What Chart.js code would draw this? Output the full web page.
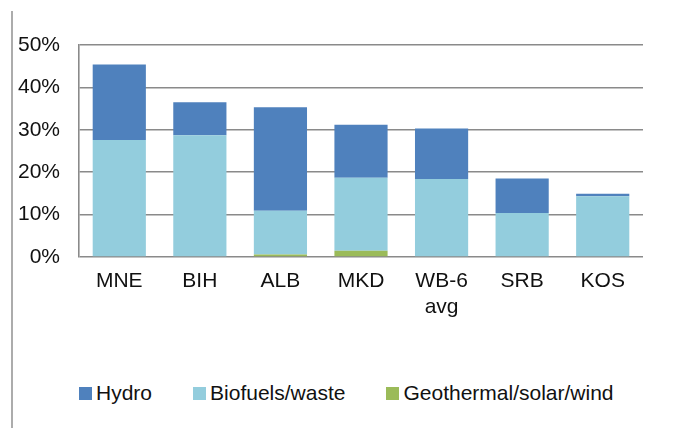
<!DOCTYPE html>
<html>
<head>
<meta charset="utf-8">
<script src="https://cdn.jsdelivr.net/npm/chart.js@4/dist/chart.umd.min.js"></script>
<style>
  body { margin: 0; background: #fff; font-family: "Liberation Sans", Arial, sans-serif; }
  #wrap { position: relative; width: 675px; height: 428px; overflow: hidden; }
  #edge { position: absolute; left: 11px; top: 11px; width: 2px; height: 417px; background: #acacac; }
  #chart { position: absolute; left: 0; top: 0; }
  #legend { position: absolute; left: 79px; top: 381px; display: flex; font-size: 21px; color: #111; }
  #legend .item { display: flex; align-items: center; margin-right: 41px; }
  #legend .sw { width: 13px; height: 13px; margin-right: 4px; }
</style>
</head>
<body>
<div id="wrap">
  <div id="edge"></div>
  <canvas id="chart" width="675" height="330"></canvas>
  <div id="legend"></div>
</div>
<script>
const categories = ['MNE', 'BIH', 'ALB', 'MKD', ['WB-6', 'avg'], 'SRB', 'KOS'];
const hydro = [17.8, 7.8, 24.4, 12.5, 11.9, 8.1, 0.6];
const biofuels = [27.6, 28.7, 10.3, 17.2, 18.4, 10.4, 14.3];
const geoSolarWind = [0, 0, 0.6, 1.5, 0, 0, 0];
const yTicks = [0, 10, 20, 30, 40, 50];

const font = { family: '"Liberation Sans", Arial, sans-serif', size: 21 };
const gridGray = '#8a8a8a';

// stacked bottom-up: geo, biofuels, hydro
const chart = new Chart(document.getElementById('chart'), {
  type: 'bar',
  data: {
    labels: categories,
    datasets: [
      { label: 'Geothermal/solar/wind', data: geoSolarWind, backgroundColor: '#9BBB59' },
      { label: 'Biofuels/waste', data: biofuels, backgroundColor: '#93CDDD' },
      { label: 'Hydro', data: hydro, backgroundColor: '#4F81BD' }
    ]
  },
  options: {
    responsive: false,
    animation: false,
    devicePixelRatio: 1,
    layout: { padding: { top: 45, right: 32, left: 0, bottom: 0 } },
    datasets: { bar: { categoryPercentage: 1, barPercentage: 0.66, borderWidth: 0 } },
    plugins: { legend: { display: false }, tooltip: { enabled: false } },
    scales: {
      x: {
        stacked: true,
        grid: { display: false, drawTicks: false },
        border: { display: false },
        ticks: { font: font, color: '#111', padding: 12, maxRotation: 0, autoSkip: false },
        afterFit: axis => { axis.height = 73; }
      },
      y: {
        stacked: true,
        min: yTicks[0],
        max: yTicks[yTicks.length - 1],
        afterBuildTicks: axis => { axis.ticks = yTicks.map(v => ({ value: v })); },
        grid: { color: gridGray, lineWidth: 1.6, drawTicks: false },
        border: { display: true, color: gridGray, width: 1.6 },
        ticks: { font: font, color: '#111', padding: 19, callback: v => v + '%' },
        afterFit: axis => { axis.width = 79; }
      }
    }
  }
});

// html legend in the original order
const legend = document.getElementById('legend');
['Hydro', 'Biofuels/waste', 'Geothermal/solar/wind'].forEach(name => {
  const ds = chart.data.datasets.find(d => d.label === name);
  const item = document.createElement('div');
  item.className = 'item';
  const sw = document.createElement('span');
  sw.className = 'sw';
  sw.style.background = ds.backgroundColor;
  item.appendChild(sw);
  item.appendChild(document.createTextNode(name));
  legend.appendChild(item);
});
</script>
</body>
</html>
